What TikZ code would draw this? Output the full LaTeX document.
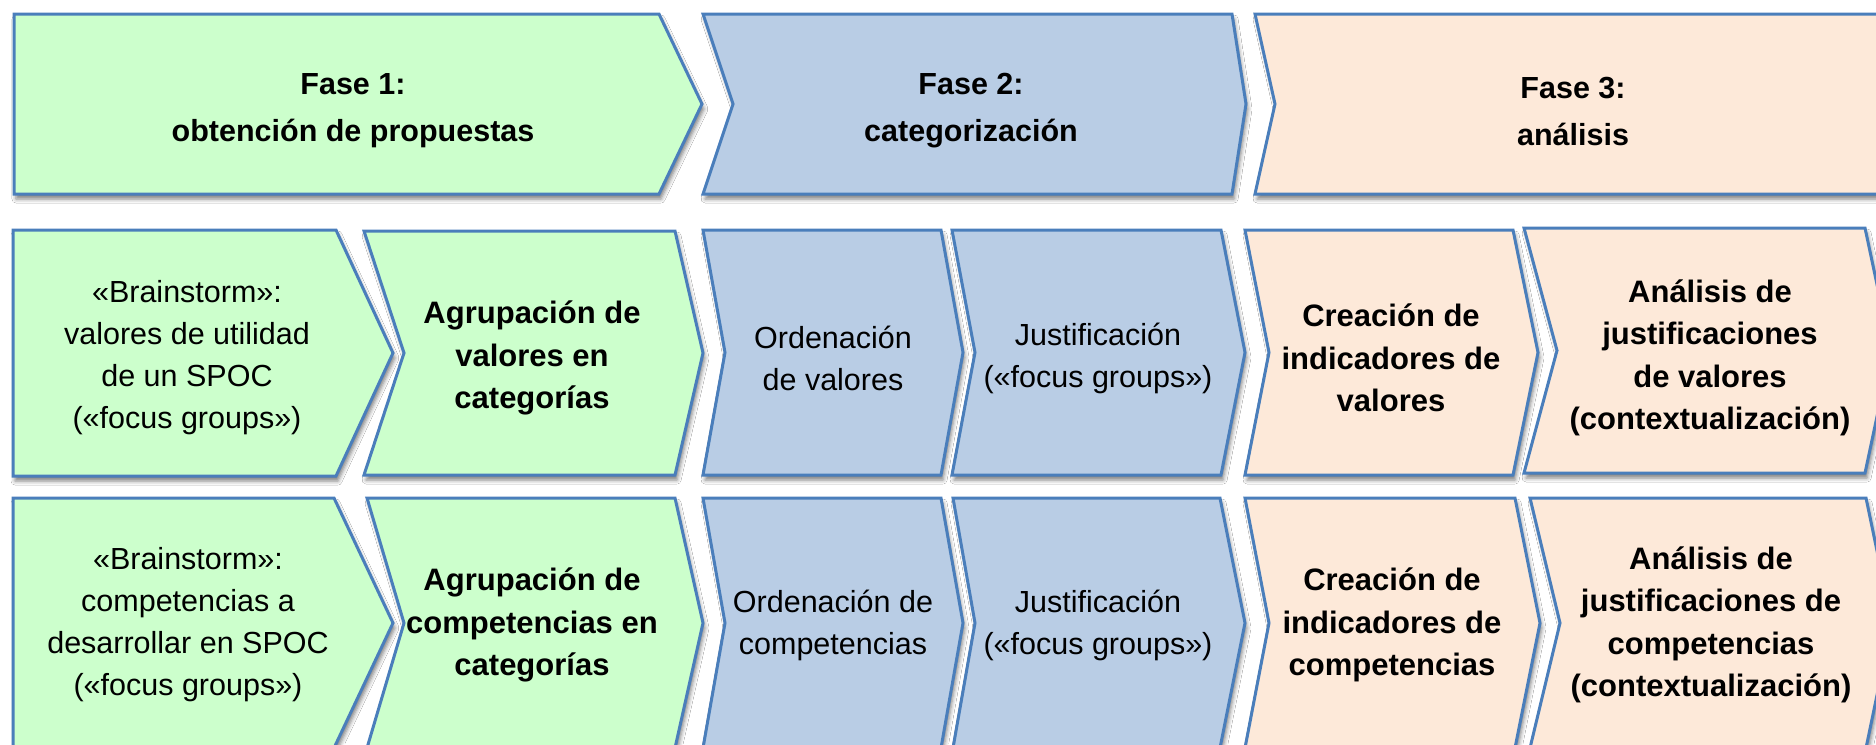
\documentclass[tikz,border=0pt]{standalone}
\usepackage{fontspec}
\setmainfont{Liberation Sans}
\usetikzlibrary{shadows.blur}
\definecolor{bordc}{HTML}{4A7EBB}
\definecolor{greenf}{HTML}{CCFFCC}
\definecolor{bluef}{HTML}{B9CDE5}
\definecolor{peachf}{HTML}{FDE9D9}
% #1 left x, #2 notch depth, #3 right top x, #4 tip depth, #5 top y, #6 bottom y, #7 style
\newcommand\chevpath[7]{%
  \draw[#7] (#1,#5) -- (#3,#5) -- ({#3+#4},{(#5+#6)/2}) -- (#3,#6) -- (#1,#6)
    -- ({#1+#2},{(#5+#6)/2}) -- cycle;}
\begin{document}
\begin{tikzpicture}[x=1pt,y=-1pt,
  chev/.style={draw=bordc, line width=3pt, line join=miter,
    blur shadow={shadow xshift=2pt, shadow yshift=-5pt, shadow blur radius=4pt, shadow opacity=50}},
  gchev/.style={chev, fill=greenf},
  bchev/.style={chev, fill=bluef},
  pchev/.style={chev, fill=peachf},
  phasetxt/.style={align=center, font=\fontsize{30.5}{47}\selectfont\bfseries, inner sep=0pt},
  plaintxt/.style={align=center, font=\fontsize{30.5}{42}\selectfont, inner sep=0pt},
  boldtxt/.style={align=center, font=\fontsize{31}{42.5}\selectfont\bfseries, inner sep=0pt}]
\useasboundingbox (0,0) rectangle (1876,744);
\clip (0,0) rectangle (1876,744);
\fill[white] (0,0) rectangle (1876,744);
% Row 1: phases
\chevpath{14}{0}{659}{43}{14}{194}{gchev}
\chevpath{703}{30}{1232}{14}{14}{194}{bchev}
\chevpath{1255}{20}{1900}{20}{14}{194}{pchev}
\node[phasetxt] (f1) at (353,111) {Fase 1:\\obtención de propuestas};
\node[phasetxt] (f2) at (971,111) {Fase 2:\\categorización};
\node[phasetxt] (f3) at (1573,111) {Fase 3:\\análisis};
% Row 2
\chevpath{13}{0}{336}{57}{230}{476}{gchev}
\chevpath{364}{40}{675}{28}{231}{475}{gchev}
\chevpath{703}{22}{941}{22}{230}{475}{bchev}
\chevpath{952}{23}{1221}{24}{230}{475}{bchev}
\chevpath{1245}{24}{1513}{25}{230}{475}{pchev}
\chevpath{1524}{33}{1865}{26}{228}{473}{pchev}
\node[plaintxt] (a1) at (187,358) {«Brainstorm»:\\valores de utilidad\\de un SPOC\\(«focus groups»)};
\node[boldtxt] (b1) at (532,358) {Agrupación de\\valores en\\categorías};
\node[plaintxt] (c1) at (833,358) {Ordenación\\de valores};
\node[plaintxt] (d1) at (1098,358) {Justificación\\(«focus groups»)};
\node[boldtxt] (e1) at (1391,358) {Creación de\\indicadores de\\valores};
\node[boldtxt] (g1) at (1710,358) {Análisis de\\justificaciones\\de valores\\(contextualización)};
% Row 3
\chevpath{13}{0}{334}{59}{498}{748}{gchev}
\chevpath{367}{37}{675}{28}{498}{748}{gchev}
\chevpath{703}{22}{941}{22}{498}{748}{bchev}
\chevpath{953}{22}{1220}{25}{498}{748}{bchev}
\chevpath{1245}{24}{1515}{25}{498}{748}{pchev}
\chevpath{1530}{30}{1866}{26}{498}{748}{pchev}
\node[plaintxt] (a2) at (188,625) {«Brainstorm»:\\competencias a\\desarrollar en SPOC\\(«focus groups»)};
\node[boldtxt] (b2) at (532,625) {Agrupación de\\competencias en\\categorías};
\node[plaintxt] (c2) at (833,625) {Ordenación de\\competencias};
\node[plaintxt] (d2) at (1098,625) {Justificación\\(«focus groups»)};
\node[boldtxt] (e2) at (1392,625) {Creación de\\indicadores de\\competencias};
\node[boldtxt] (g2) at (1711,625) {Análisis de\\justificaciones de\\competencias\\(contextualización)};
\end{tikzpicture}
\end{document}
